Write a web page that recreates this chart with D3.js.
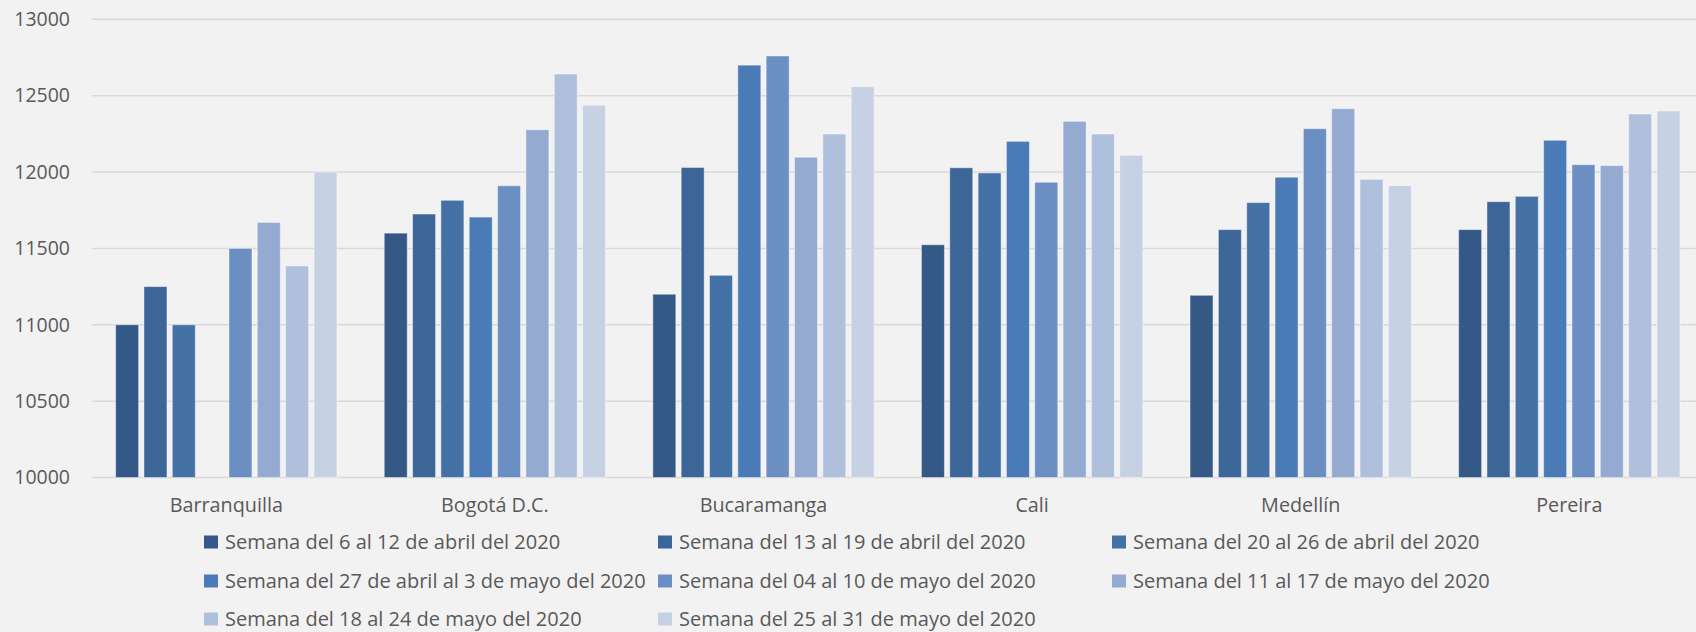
<!DOCTYPE html>
<html><head><meta charset="utf-8">
<script src="https://cdn.jsdelivr.net/npm/d3@7"></script>
<style>
html,body{margin:0;padding:0;background:#f2f2f2;}
svg{display:block;}
text{font-family:"Open Sans","Noto Sans",sans-serif;fill:#595959;}
</style></head>
<body>
<script>
const categories = ["Barranquilla","Bogotá D.C.","Bucaramanga","Cali","Medellín","Pereira"];
const seriesNames = [
  "Semana del 6 al 12 de abril del 2020",
  "Semana del 13 al 19 de abril del 2020",
  "Semana del 20 al 26 de abril del 2020",
  "Semana del 27 de abril al 3 de mayo del 2020",
  "Semana del 04 al 10 de mayo del 2020",
  "Semana del 11 al 17 de mayo del 2020",
  "Semana del 18 al 24 de mayo del 2020",
  "Semana del 25 al 31 de mayo del 2020"
];
const s1 = [11000, 11600, 11200, 11524, 11193, 11623];
const s2 = [11250, 11725, 12030, 12028, 11623, 11806];
const s3 = [11000, 11815, 11324, 11994, 11800, 11841];
const s4 = [null,  11705, 12700, 12201, 11966, 12208];
const s5 = [11500, 11910, 12760, 11933, 12284, 12048];
const s6 = [11670, 12277, 12097, 12332, 12415, 12042];
const s7 = [11385, 12642, 12249, 12249, 11952, 12380];
const s8 = [12000, 12437, 12559, 12110, 11911, 12400];
const seriesValues = [s1,s2,s3,s4,s5,s6,s7,s8];
const colors = ["#355987","#3d6698","#4472a7","#4a7bb6","#6b8fc3","#95aad1","#afc0dc","#c7d1e4"];
const yTicks = [10000,10500,11000,11500,12000,12500,13000];

const W = 1696, H = 632;
const svg = d3.select("body").append("svg").attr("width", W).attr("height", H);
svg.append("rect").attr("width", W).attr("height", H).attr("fill", "#f2f2f2");

const y = d3.scaleLinear().domain([10000, 13000]).range([477.5, 19.3]);
const x0 = d3.scaleBand().domain(categories).range([92, 1703.6]).padding(0);
const x1 = d3.scaleBand().domain(d3.range(seriesNames.length)).range([0, x0.bandwidth()])
  .paddingInner(0.188).paddingOuter(0.834);

// gridlines
svg.append("g").selectAll("line").data(yTicks).join("line")
  .attr("x1", 92).attr("x2", 1704)
  .attr("y1", d => y(d)).attr("y2", d => y(d))
  .attr("stroke", "#d9d9d9").attr("stroke-width", 1.5);

// y axis labels
const yAxis = d3.axisLeft(y).tickValues(yTicks).tickSize(0).tickPadding(0).tickFormat(d3.format("d"));
const ya = svg.append("g").attr("transform", "translate(70,0)").call(yAxis);
ya.select(".domain").remove();
ya.selectAll("text").attr("font-size", 19.5).attr("fill", "#595959")
  .style("font-family", '"Open Sans","Noto Sans",sans-serif');

// bars
const groups = svg.append("g").selectAll("g").data(categories).join("g")
  .attr("transform", d => `translate(${x0(d)},0)`);
groups.selectAll("rect")
  .data((c, ci) => seriesValues.map((arr, si) => ({si, v: arr[ci]})).filter(d => d.v != null))
  .join("rect")
  .attr("x", d => x1(d.si))
  .attr("width", x1.bandwidth())
  .attr("y", d => y(d.v))
  .attr("height", d => y(10000) - y(d.v))
  .attr("fill", d => colors[d.si])
  .attr("stroke", "rgba(255,255,255,0.45)").attr("stroke-width", 1);

// x axis labels
const xAxis = d3.axisBottom(x0).tickSize(0).tickPadding(0);
const xa = svg.append("g").attr("transform", "translate(0,498)").call(xAxis);
xa.select(".domain").remove();
xa.selectAll("text").attr("font-size", 19.8).attr("fill", "#595959")
  .style("font-family", '"Open Sans","Noto Sans",sans-serif');

// legend
const legendCols = [204, 658, 1112];
const legendRows = [542, 581, 619];
const lg = svg.append("g").selectAll("g").data(seriesNames).join("g")
  .attr("transform", (d, i) => `translate(${legendCols[i % 3]},${legendRows[Math.floor(i / 3)]})`);
lg.append("rect").attr("x", 0).attr("y", -6.5).attr("width", 14).attr("height", 13)
  .attr("fill", (d, i) => colors[i]);
lg.append("text").attr("x", 21).attr("y", 0).attr("dy", "0.35em")
  .attr("font-size", 20).text(d => d);
</script>
</body></html>
